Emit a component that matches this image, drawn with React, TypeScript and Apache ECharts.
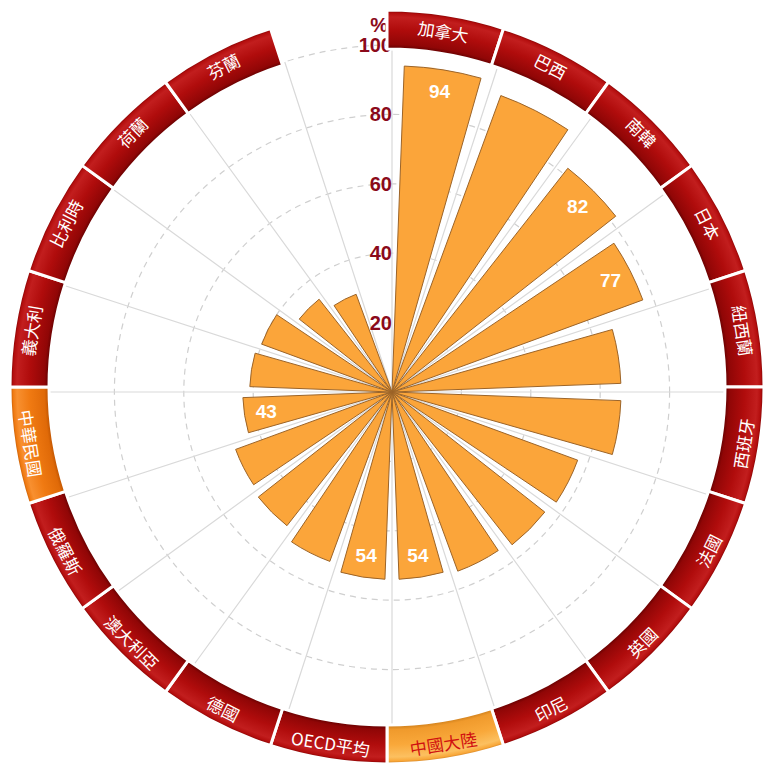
import React, { useEffect, useRef } from "react";
import * as echarts from "echarts";

const categories = [
  "加拿大", "巴西", "南韓", "日本", "紐西蘭", "西班牙", "法國", "英國", "印尼", "中國大陸",
  "OECD平均", "德國", "澳大利亞", "俄羅斯", "中華民國", "義大利", "比利時", "荷蘭", "芬蘭", "",
];
const values: (number | null)[] = [
  94, 91, 82, 77, 66, 66, 57, 56, 55, 54,
  54, 52, 49, 48, 43, 41, 40, 34, 30, null,
];
const labeledBars = ["加拿大", "南韓", "日本", "中國大陸", "OECD平均", "中華民國"];
const radiusTicks = [0, 20, 40, 60, 80, 100];
const highlightDark = "中華民國";
const highlightLight = "中國大陸";

const PC = [392, 392];
const PR = 347;
const RC = [387, 387];
const RIN = 338;
const ROUT = 377;

function ringGradient(stops: [number, string][]) {
  const f = RIN / ROUT;
  return new echarts.graphic.RadialGradient(
    RC[0],
    RC[1],
    ROUT,
    stops.map(([o, c]) => ({ offset: f + (1 - f) * o, color: c })),
    true
  );
}

export default function App() {
  const ref = useRef<HTMLDivElement>(null);
  useEffect(() => {
    document.body.style.margin = "0";
    const chart = echarts.init(ref.current!, undefined, { renderer: "svg" });
    const red = ringGradient([
      [0, "#5e0000"],
      [0.12, "#900606"],
      [0.5, "#b00c0c"],
      [0.82, "#c21e1e"],
      [0.92, "#b40e0e"],
      [1, "#6e0000"],
    ]);
    const orangeDark = ringGradient([
      [0, "#b85000"],
      [0.12, "#e06a08"],
      [0.5, "#f07a12"],
      [0.82, "#f89030"],
      [0.92, "#f07a12"],
      [1, "#b05000"],
    ]);
    const orangeLight = ringGradient([
      [0, "#c87a18"],
      [0.12, "#f09a2c"],
      [0.5, "#f9a83a"],
      [0.82, "#fcc060"],
      [0.92, "#f9a83a"],
      [1, "#c07018"],
    ]);
    const option = {
      animation: false,
      polar: { center: PC, radius: PR },
      angleAxis: {
        type: "category",
        data: categories,
        startAngle: 90,
        clockwise: true,
        boundaryGap: true,
        axisLine: { show: false },
        axisTick: { show: false },
        axisLabel: { show: false },
        splitLine: { show: true, lineStyle: { color: "#d9d9d9", width: 1.2 } },
      },
      radiusAxis: {
        type: "value",
        min: radiusTicks[0],
        max: radiusTicks[radiusTicks.length - 1],
        interval: 20,
        name: "%",
        nameLocation: "end",
        nameGap: 8,
        nameTextStyle: {
          color: "#8b0a1a",
          fontWeight: "bold",
          fontSize: 20,
          fontFamily: "Liberation Sans",
          align: "right",
          padding: [0, 4, 0, 0],
        },
        axisLine: { show: false },
        axisTick: { show: false },
        axisLabel: {
          color: "#8b0a1a",
          fontWeight: "bold",
          fontSize: 20,
          margin: 0,
          fontFamily: "Liberation Sans",
          formatter: (v: number) => (v === 0 ? "" : String(v)),
        },
        splitLine: {
          show: true,
          lineStyle: { color: "#cfcfcf", type: [6, 5], width: 1.2 },
        },
      },
      series: [
        {
          type: "bar",
          coordinateSystem: "polar",
          barCategoryGap: "24%",
          data: values.map((v, i) => ({
            value: v === null ? "-" : v,
            label: { show: labeledBars.includes(categories[i]) },
          })),
          itemStyle: {
            color: "#fba53a",
            borderColor: "#9c6428",
            borderWidth: 1,
          },
          label: {
            position: "insideEnd",
            distance: 22,
            rotate: 0,
            align: "center",
            verticalAlign: "middle",
            color: "#ffffff",
            fontWeight: "bold",
            fontSize: 19,
            fontFamily: "Liberation Sans",
          },
          z: 3,
        },
        {
          type: "pie",
          center: RC,
          radius: [RIN, ROUT],
          startAngle: 90,
          clockwise: true,
          silent: true,
          z: 5,
          labelLine: { show: false },
          itemStyle: { borderColor: "#ffffff", borderWidth: 3 },
          data: categories.map((c) => {
            if (c === "") {
              return {
                name: "",
                value: 1,
                itemStyle: { color: "rgba(0,0,0,0)", borderColor: "rgba(0,0,0,0)" },
                label: { show: false },
              };
            }
            const isDark = c === highlightDark;
            const isLight = c === highlightLight;
            return {
              name: c,
              value: 1,
              itemStyle: { color: isDark ? orangeDark : isLight ? orangeLight : red },
              label: { color: isLight ? "#d01010" : "#ffffff" },
            };
          }),
          label: {
            show: true,
            position: "inside",
            rotate: "tangential",
            formatter: "{b}",
            fontSize: 17,
            fontFamily: "Noto Sans CJK TC",
            color: "#ffffff",
          },
        },
      ],
    };
    chart.setOption(option as any);
    return () => chart.dispose();
  }, []);
  return <div ref={ref} style={{ width: 766, height: 771 }} />;
}
